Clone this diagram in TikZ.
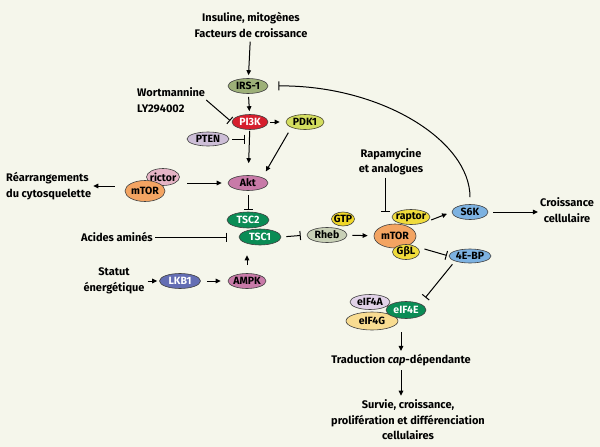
\documentclass[tikz,border=0pt]{standalone}
\usepackage{fontspec}
\setmainfont{Fira Sans}
\usepackage{xcolor}
\usepackage{tikz}
\usetikzlibrary{shapes,arrows.meta,positioning,calc}

\definecolor{bgcream}{RGB}{245,246,235}
\definecolor{irsgreen}{RGB}{157,176,120}
\definecolor{pikred}{RGB}{214,30,45}
\definecolor{pdkyellow}{RGB}{212,222,95}
\definecolor{ptenlilac}{RGB}{205,190,215}
\definecolor{aktpink}{RGB}{200,122,168}
\definecolor{rictorpink}{RGB}{229,180,197}
\definecolor{mtororange}{RGB}{243,164,98}
\definecolor{tscgreen}{RGB}{10,140,85}
\definecolor{rhebgrey}{RGB}{200,208,182}
\definecolor{gtpyellow}{RGB}{240,215,40}
\definecolor{raptoryellow}{RGB}{240,220,60}
\definecolor{s6kblue}{RGB}{125,178,225}
\definecolor{lkbblue}{RGB}{100,110,180}
\definecolor{eifalilac}{RGB}{225,210,232}
\definecolor{eifgyellow}{RGB}{248,220,145}

\begin{document}
\begin{tikzpicture}[
    x=1pt, y=-1pt,
    every node/.style = {font=\bfseries\fontsize{11}{15.5}\selectfont},
    prot/.style = {ellipse, draw=black!75, line width=0.6pt,
                   inner xsep=-4pt, inner ysep=-1.5pt,
                   font=\bfseries\fontsize{10.5}{10.5}\selectfont},
    lbl/.style = {align=center, inner sep=1pt},
    act/.style = {-{Triangle[length=5pt,width=4.5pt]}, line width=1pt},
    inh/.style = {-{Bar[width=9pt]}, line width=1pt}
  ]
  \fill[bgcream] (0,0) rectangle (600,447);
  \useasboundingbox (0,0) rectangle (600,447);

  % signaux d'entree
  \node[lbl] (ins) at (251,25) {Insuline, mitogènes\\Facteurs de croissance};
  \node[lbl, align=left, anchor=west] (wort) at (136,100) {Wortmannine\\LY294002};
  \node[lbl, align=left, anchor=west] (rearr) at (5,186) {Réarrangements\\du cytosquelette};
  \node[lbl, anchor=east] (acides) at (154,237) {Acides aminés};
  \node[lbl] (statut) at (114,281) {Statut\\énergétique};
  \node[lbl] (rapa) at (391,162) {Rapamycine\\et analogues};
  \node[lbl] (croiss) at (567,210) {Croissance\\cellulaire};
  \node[lbl] (trad) at (401,360) {Traduction \textit{cap}-dépendante};
  \node[lbl] (survie) at (408,420) {Survie, croissance,\\prolifération et différenciation\\cellulaires};

  % proteines
  \node[prot, fill=irsgreen, minimum width=40pt, minimum height=15pt] (irs) at (248,86) {IRS-1};
  \node[prot, fill=pikred, text=white, minimum width=36pt, minimum height=15pt] (pi3k) at (250,122) {PI3K};
  \node[prot, fill=pdkyellow, draw=black!60!olive, minimum width=38pt, minimum height=15pt] (pdk) at (305,122) {PDK1};
  \node[prot, fill=ptenlilac, minimum width=42pt, minimum height=14pt] (pten) at (208,139) {PTEN};
  \node[prot, fill=aktpink, minimum width=40pt, minimum height=15pt] (akt) at (248,183) {Akt};
  \node[prot, fill=rictorpink, minimum width=33pt, minimum height=17pt] (rictor) at (163,177) {rictor};
  \node[prot, fill=mtororange, minimum width=40pt, minimum height=21pt] (mtorl) at (145,191) {mTOR};
  \node[prot, fill=tscgreen, text=white, minimum width=42pt, minimum height=16pt] (tsc2) at (248,220) {TSC2};
  \node[prot, fill=tscgreen, text=white, minimum width=42pt, minimum height=16pt] (tsc1) at (260,237) {TSC1};
  \node[prot, fill=rhebgrey, minimum width=40pt, minimum height=15pt] (rheb) at (327,235) {Rheb};
  \node[prot, fill=gtpyellow, minimum width=23pt, minimum height=14pt] (gtp) at (343,219) {GTP};
  \node[prot, fill=mtororange, minimum width=42pt, minimum height=24pt] (mtorr) at (395,236) {mTOR};
  \node[prot, fill=raptoryellow, minimum width=38pt, minimum height=15pt] (raptor) at (411,217) {raptor};
  \node[prot, fill=raptoryellow, minimum width=27pt, minimum height=15pt] (gbl) at (406,252) {GβL};
  \node[prot, fill=s6kblue, minimum width=36pt, minimum height=15pt] (s6k) at (470,212) {S6K};
  \node[prot, fill=s6kblue, minimum width=42pt, minimum height=14pt] (ebp) at (470,256) {4E-BP};
  \node[prot, fill=lkbblue, text=white, minimum width=41pt, minimum height=15pt] (lkb) at (180,281) {LKB1};
  \node[prot, fill=aktpink, minimum width=38pt, minimum height=15pt] (ampk) at (247,281) {AMPK};
  \node[prot, fill=eifalilac, minimum width=40pt, minimum height=15pt] (eif4a) at (370,302) {eIF4A};
  \node[prot, fill=eifgyellow, minimum width=52pt, minimum height=18pt] (eif4g) at (372,321) {eIF4G};
  \node[prot, fill=tscgreen, text=white, minimum width=40pt, minimum height=17pt] (eif4e) at (406,310) {eIF4E};

  \coordinate (rapabar) at (385,212);

  % activations
  \draw[act, shorten <=3pt, shorten >=3pt] (ins) -- (irs);
  \draw[act, shorten <=3pt, shorten >=3pt] (irs) -- (pi3k);
  \draw[act, shorten <=2pt, shorten >=6pt] (pi3k) -- (pdk);
  \draw[act, shorten <=1pt, shorten >=12pt] (pi3k) -- (akt);
  \draw[act, shorten <=6pt, shorten >=7pt] (pdk.south west) -- (akt.north east);
  \draw[act, shorten <=10pt, shorten >=1pt] (rearr.east -| mtorl.west) -- (rearr.east);
  \draw[act, shorten <=22pt, shorten >=6pt] (mtorl.east |- akt.west) -- (akt.west);
  \draw[act, shorten <=5pt, shorten >=6pt] (rheb) -- (mtorr);
  \draw[act, shorten <=7pt, shorten >=5pt] (raptor.south east) -- (s6k.west);
  \draw[act, shorten <=5pt, shorten >=1pt] (s6k.east) -- (s6k.east -| croiss.west);
  \draw[act, shorten <=2pt, shorten >=2pt] (statut) -- (lkb);
  \draw[act, shorten <=6pt, shorten >=7pt] (lkb) -- (ampk);
  \draw[act, shorten <=8pt, shorten >=10pt] (ampk.north) -- (ampk.north |- tsc1.south);
  \draw[act, shorten <=2pt, shorten >=2pt] (eif4g.south -| trad.north) -- (trad.north);
  \draw[act, shorten <=3pt, shorten >=3pt] (trad.south) -- (trad.south |- survie.north);

  % inhibitions
  \draw[inh, shorten >=2pt] (wort.east) -- (pi3k.west);
  \draw[inh, shorten <=3pt, shorten >=5pt] (pten.east) -- (pten.east -| pi3k.south);
  \draw[inh, shorten <=4pt, shorten >=2pt] (akt) -- (tsc2);
  \draw[inh, shorten <=1pt] (acides.east) -- (acides.east -| tsc2.west);
  \draw[inh, shorten <=5pt, shorten >=6pt] (tsc1.east) -- (rheb.west);
  \draw[inh, shorten <=1pt] (rapa.south -| rapabar) -- (rapabar);
  \draw[inh, shorten <=9pt, shorten >=2pt] (gbl.north east) -- (ebp.west);
  \draw[inh, shorten <=4pt, shorten >=8pt] (ebp.south west) -- (eif4e.north east);
  \draw[inh, shorten <=7pt, shorten >=10pt] (s6k.north) .. controls +(0,-64) and +(112,-1) .. (irs.east);
\end{tikzpicture}
\end{document}
